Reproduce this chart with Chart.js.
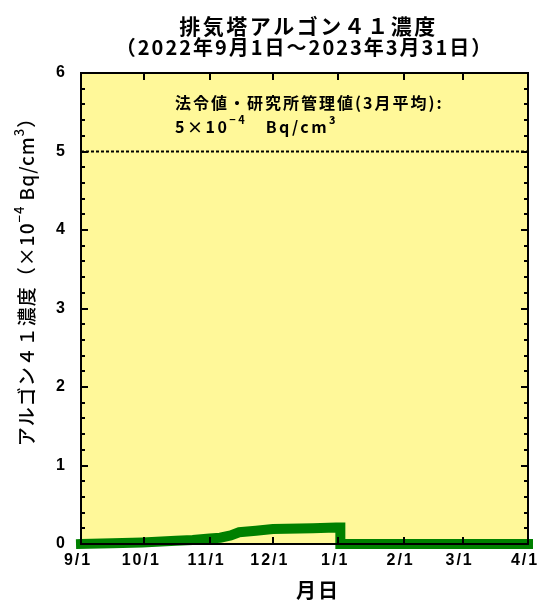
<!DOCTYPE html>
<html>
<head>
<meta charset="utf-8">
<script src="https://cdn.jsdelivr.net/npm/chart.js@4.4.0/dist/chart.umd.min.js"></script>
<style>
html, body { margin: 0; padding: 0; background: #fff; }
</style>
</head>
<body>
<canvas id="argon" width="539" height="600"></canvas>
<script>
// days counted from 2022/9/1
const days = [0, 15, 29, 45, 53, 61, 66, 71, 75, 83, 91, 110, 121, 123, 123, 212];
const argon = [0.00, 0.01, 0.02, 0.04, 0.05, 0.07, 0.08, 0.11, 0.15, 0.17, 0.19, 0.20, 0.21, 0.21, 0, 0];
const monthDays = [0, 30, 61, 91, 122, 153, 181, 212];
const monthLabels = ['9/1', '10/1', '11/1', '12/1', '1/1', '2/1', '3/1', '4/1'];
const yTicks = [0, 1, 2, 3, 4, 5, 6];
const limitValue = 5;

const JP = '"Noto Sans CJK JP", sans-serif';
const NUM = '"Liberation Sans", "Noto Sans CJK JP", sans-serif';

// text with superscript parts: [[text, isSup], ...]
function richWidth(ctx, parts, size, weight, fam, sp) {
  let w = 0;
  ctx.letterSpacing = sp + 'px';
  parts.forEach(p => {
    ctx.font = weight + ' ' + (p[1] ? Math.round(size * 0.7) : size) + 'px ' + fam;
    w += ctx.measureText(p[0]).width;
  });
  return w;
}
function drawRich(ctx, parts, x, y, size, weight, fam, sp) {
  ctx.letterSpacing = sp + 'px';
  parts.forEach(p => {
    const s = p[1] ? Math.round(size * 0.7) : size;
    ctx.font = weight + ' ' + s + 'px ' + fam;
    ctx.fillText(p[0], x, p[1] ? y - size * 0.42 : y);
    x += ctx.measureText(p[0]).width;
  });
}

//background of the plot area
const bgPlugin = {
  id: 'bg',
  beforeDraw(chart) {
    const a = chart.chartArea, ctx = chart.ctx;
    ctx.save();
    ctx.fillStyle = 'rgb(255,248,153)';
    ctx.fillRect(a.left, a.top, a.right - a.left, a.bottom - a.top);
    ctx.restore();
  }
};

//frame with inward ticks, month labels
const framePlugin = {
  id: 'frame',
  afterDatasetsDraw(chart) {
    const a = chart.chartArea, ctx = chart.ctx;
    const xs = chart.scales.x, ys = chart.scales.y;
    ctx.save();
    ctx.strokeStyle = '#000';
    ctx.lineWidth = 2;
    ctx.strokeRect(a.left, a.top, a.right - a.left, a.bottom - a.top);
    ctx.beginPath();
    monthDays.forEach(d => {
      const px = Math.round(xs.getPixelForValue(d));
      ctx.moveTo(px, a.bottom); ctx.lineTo(px, a.bottom - 7);
      ctx.moveTo(px, a.top); ctx.lineTo(px, a.top + 7);
    });
    for (let i = 0; i <= 30; i++) {
      const py = Math.round(ys.getPixelForValue(i / 5));
      const len = i % 5 === 0 ? 7 : 4;
      ctx.moveTo(a.left, py); ctx.lineTo(a.left + len, py);
      ctx.moveTo(a.right, py); ctx.lineTo(a.right - len, py);
    }
    ctx.stroke();

    ctx.fillStyle = '#000';
    ctx.font = 'bold 16px ' + NUM;
    ctx.letterSpacing = '2px';
    ctx.textBaseline = 'middle';
    ctx.textAlign = 'left';
    monthDays.forEach((d, i) => {
      const w = ctx.measureText(monthLabels[i]).width - 2;
      ctx.fillText(monthLabels[i], xs.getPixelForValue(d) - w / 2 - 4, 561);
    });
    ctx.restore();
  }
};

//titles and notes
const textPlugin = {
  id: 'texts',
  afterDraw(chart) {
    const a = chart.chartArea, ctx = chart.ctx;
    const cx = (a.left + a.right) / 2;
    ctx.save();
    ctx.fillStyle = '#000';
    ctx.textBaseline = 'middle';
    ctx.textAlign = 'center';
    ctx.letterSpacing = '2.5px';
    ctx.font = 'bold 21px ' + JP;
    ctx.fillText('排気塔アルゴン４１濃度', cx + 4, 26);
    ctx.letterSpacing = '2px';
    ctx.font = 'bold 20px ' + JP;
    ctx.fillText('（2022年9月1日～2023年3月31日）', cx, 47);
    ctx.letterSpacing = '2px';
    ctx.font = 'bold 20px ' + JP;
    ctx.fillText('月日', 318, 590);

    ctx.textAlign = 'left';
    ctx.letterSpacing = '2px';
    ctx.font = 'bold 16px ' + JP;
    ctx.fillText('法令値・研究所管理値(3月平均):', 175, 103);
    drawRich(ctx, [['5×10', false], ['−4', true], ['   Bq/cm', false], ['3', true]], 175, 127, 16, 'bold', JP, 2.5);

    const yParts = [['アルゴン４１濃度（×10', false], ['−4', true], [' Bq/cm', false], ['3', true], ['）', false]];
    const w = richWidth(ctx, yParts, 19, '500', JP, 1);
    ctx.translate(27, 277);
    ctx.rotate(-Math.PI / 2);
    drawRich(ctx, yParts, -w / 2, 0, 19, '500', JP, 1);
    ctx.restore();
  }
};

const chart = new Chart(document.getElementById('argon').getContext('2d'), {
  type: 'line',
  data: {
    datasets: [
      {
        data: days.map((d, i) => ({ x: d, y: argon[i] })),
        borderColor: 'rgb(0,128,0)',
        borderWidth: 10,
        borderCapStyle: 'square',
        borderJoinStyle: 'miter',
        pointRadius: 0,
        tension: 0,
        clip: false
      },
      {
        data: [{ x: 0, y: limitValue }, { x: 212, y: limitValue }],
        borderColor: '#000',
        borderWidth: 2,
        borderDash: [3, 2],
        pointRadius: 0
      }
    ]
  },
  options: {
    responsive: false,
    animation: false,
    devicePixelRatio: 1,
    layout: { padding: { top: 73, right: 11, left: 0, bottom: 0 } },
    plugins: { legend: { display: false }, tooltip: { enabled: false } },
    scales: {
      x: {
        type: 'linear',
        min: 0,
        max: 212,
        afterBuildTicks: s => { s.ticks = monthDays.map(v => ({ value: v })); },
        afterFit: s => { s.height = 56; s.paddingLeft = 0; s.paddingRight = 0; },
        grid: { display: false, drawTicks: false },
        border: { display: false },
        ticks: { display: false }
      },
      y: {
        min: 0,
        max: 6,
        afterBuildTicks: s => { s.ticks = yTicks.map(v => ({ value: v })); },
        afterFit: s => { s.width = 81; s.paddingTop = 0; s.paddingBottom = 0; },
        grid: { display: false, drawTicks: false },
        border: { display: false },
        ticks: {
          padding: 16,
          color: '#000',
          font: { family: NUM, size: 16, weight: 'bold' }
        }
      }
    }
  },
  plugins: [bgPlugin, framePlugin, textPlugin]
});
</script>
</body>
</html>
